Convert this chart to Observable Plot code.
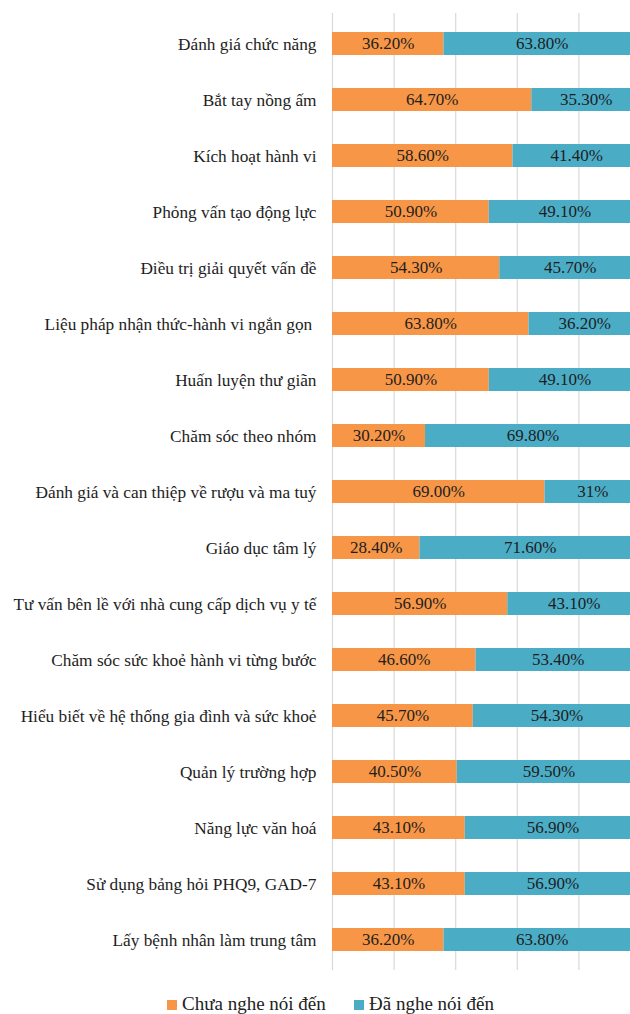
<!DOCTYPE html>
<html>
<head>
<meta charset="utf-8">
<script src="https://cdn.jsdelivr.net/npm/d3@7"></script>
<script src="https://cdn.jsdelivr.net/npm/@observablehq/plot@0.6"></script>
<style>
  html, body { margin: 0; padding: 0; background: #fff; overflow: hidden; width: 630px; height: 1014px; }
  #chart { position: absolute; left: 0; top: 0; width: 640px; }
  #chart svg { max-width: none !important; }
  .lg-sw { position: absolute; width: 10px; height: 10px; }
  .lg-tx { position: absolute; font-family: "Liberation Serif", "Times New Roman", serif; font-size: 19px; line-height: 21px; color: #222; white-space: nowrap; }
</style>
</head>
<body>
<div id="chart"></div>
<div id="legend"></div>
<script>
const categories = [
  "Đánh giá chức năng",
  "Bắt tay nồng ấm",
  "Kích hoạt hành vi",
  "Phỏng vấn tạo động lực",
  "Điều trị giải quyết vấn đề",
  "Liệu pháp nhận thức-hành vi ngắn gọn ",
  "Huấn luyện thư giãn",
  "Chăm sóc theo nhóm",
  "Đánh giá và can thiệp về rượu và ma tuý",
  "Giáo dục tâm lý",
  "Tư vấn bên lề với nhà cung cấp dịch vụ y tế",
  "Chăm sóc sức khoẻ hành vi từng bước",
  "Hiểu biết về hệ thống gia đình và sức khoẻ",
  "Quản lý trường hợp",
  "Năng lực văn hoá",
  "Sử dụng bảng hỏi PHQ9, GAD-7",
  "Lấy bệnh nhân làm trung tâm"
];
const notHeard = [36.2, 64.7, 58.6, 50.9, 54.3, 63.8, 50.9, 30.2, 69.0, 28.4, 56.9, 46.6, 45.7, 40.5, 43.1, 43.1, 36.2];
const heard    = [63.8, 35.3, 41.4, 49.1, 45.7, 36.2, 49.1, 69.8, 31.0, 71.6, 43.1, 53.4, 54.3, 59.5, 56.9, 56.9, 63.8];
const notHeardLabels = ["36.20%","64.70%","58.60%","50.90%","54.30%","63.80%","50.90%","30.20%","69.00%","28.40%","56.90%","46.60%","45.70%","40.50%","43.10%","43.10%","36.20%"];
const heardLabels    = ["63.80%","35.30%","41.40%","49.10%","45.70%","36.20%","49.10%","69.80%","31%","71.60%","43.10%","53.40%","54.30%","59.50%","56.90%","56.90%","63.80%"];
const seriesNames = ["Chưa nghe nói đến", "Đã nghe nói đến"];
const seriesColors = ["#F79646", "#4BACC6"];
const xTicks = [0, 20, 40, 60, 80, 100];

const rows = [];
categories.forEach((c, i) => {
  rows.push({cat: c, series: seriesNames[0], value: notHeard[i], label: notHeardLabels[i]});
  rows.push({cat: c, series: seriesNames[1], value: heard[i], label: heardLabels[i]});
});

const font = '"Liberation Serif", "Times New Roman", serif';

const chart = Plot.plot({
  width: 640,
  height: 985,
  marginLeft: 332,
  marginRight: 0,
  marginTop: 13,
  marginBottom: 15,
  style: {fontFamily: font, fontSize: "17px", background: "#fff", overflow: "visible", maxWidth: "none"},
  x: {domain: [0, 100], axis: null},
  y: {domain: categories, paddingInner: 0.59, paddingOuter: 0.295, axis: null},
  color: {domain: seriesNames, range: seriesColors},
  marks: [
    Plot.ruleX(xTicks, {stroke: "#d9d9d9", strokeWidth: 1.2, strokeOpacity: 1}),
    Plot.barX(rows, Plot.stackX({x: "value", y: "cat", fill: "series", z: "series"})),
    Plot.text(rows, Plot.stackX({x: "value", y: "cat", z: "series", text: "label", fill: "#1e1e1e", fontSize: 17, fontFamily: font})),
    Plot.axisY({tickSize: 0, tickPadding: 16, fontSize: 17.3, fontFamily: font, fill: "#1e1e1e", label: null})
  ]
});
document.getElementById("chart").appendChild(chart);

const legend = document.getElementById("legend");
const legendX = [167, 354];
seriesNames.forEach((name, i) => {
  const sw = document.createElement("div");
  sw.className = "lg-sw";
  sw.style.left = legendX[i] + "px";
  sw.style.top = "1000px";
  sw.style.background = seriesColors[i];
  legend.appendChild(sw);
  const tx = document.createElement("span");
  tx.className = "lg-tx";
  tx.style.left = (legendX[i] + 15) + "px";
  tx.style.top = "993px";
  tx.textContent = name;
  legend.appendChild(tx);
});
</script>
</body>
</html>
